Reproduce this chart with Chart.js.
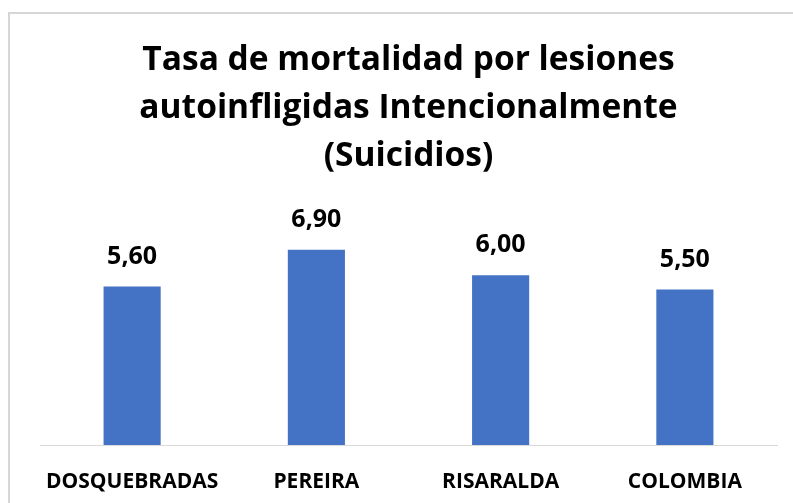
<!DOCTYPE html>
<html lang="es">
<head>
  <meta charset="UTF-8">
  <title>Tasa de mortalidad por lesiones autoinfligidas</title>
  <style>
    html, body {
      margin: 0;
      padding: 0;
      background: #ffffff;
      overflow: hidden;
    }
    .frame {
      position: absolute;
      left: 8px;
      top: 12px;
      width: 820px;
      height: 520px;
      border-left: 2px solid #d6d6d6;
      border-top: 2px solid #d6d6d6;
    }
    .wrap {
      position: absolute;
      left: 0;
      top: 0;
      width: 793px;
      height: 503px;
    }
  </style>
</head>
<body>
  <div class="frame"></div>
  <div class="wrap">
    <canvas id="chart" width="793" height="503"></canvas>
  </div>

  <script src="https://cdn.jsdelivr.net/npm/chart.js"></script>
  <script>
    const categories = ["DOSQUEBRADAS", "PEREIRA", "RISARALDA", "COLOMBIA"];
    const tasa = [5.60, 6.90, 6.00, 5.50];
    const titleLines = ["Tasa de mortalidad por lesiones", "autoinfligidas Intencionalmente", "(Suicidios)"];

    const fontFamily = "'Open Sans', Lato, sans-serif";

    // draws the value above each bar, with a comma as decimal separator
    const valueLabels = {
      id: "valueLabels",
      afterDatasetsDraw(chart) {
        const ctx = chart.ctx;
        const meta = chart.getDatasetMeta(0);
        ctx.save();
        ctx.font = "bold 25px " + fontFamily;
        ctx.fillStyle = "#000000";
        ctx.textAlign = "center";
        ctx.textBaseline = "middle";
        meta.data.forEach((bar, i) => {
          const txt = tasa[i].toFixed(2).replace(".", ",");
          ctx.fillText(txt, bar.x, bar.y - 30);
        });
        ctx.restore();
      }
    };

    const ctx = document.getElementById("chart").getContext("2d");
    new Chart(ctx, {
      type: "bar",
      data: {
        labels: categories,
        datasets: [{
          data: tasa,
          backgroundColor: "#4472C4",
          borderWidth: 0,
          categoryPercentage: 1,
          barPercentage: 0.31
        }]
      },
      options: {
        responsive: false,
        animation: false,
        layout: {
          padding: { left: 40, right: 16, top: 0, bottom: 0 }
        },
        plugins: {
          legend: { display: false },
          tooltip: { enabled: false },
          title: {
            display: true,
            text: titleLines,
            color: "#000000",
            font: { family: fontFamily, size: 33.5, weight: "bold", lineHeight: 1.43 },
            padding: { top: 37, bottom: 38 }
          }
        },
        scales: {
          x: {
            grid: { display: false, drawTicks: false },
            border: { display: true, color: "#d9d9d9", width: 1 },
            ticks: {
              color: "#000000",
              padding: 24,
              autoSkip: false,
              maxRotation: 0,
              minRotation: 0,
              font: { family: fontFamily, size: 21, weight: "bold" }
            },
            afterFit(scale) {
              scale.height = 58;
            }
          },
          y: {
            display: false,
            min: 0,
            max: 8
          }
        }
      },
      plugins: [valueLabels]
    });
  </script>
</body>
</html>
